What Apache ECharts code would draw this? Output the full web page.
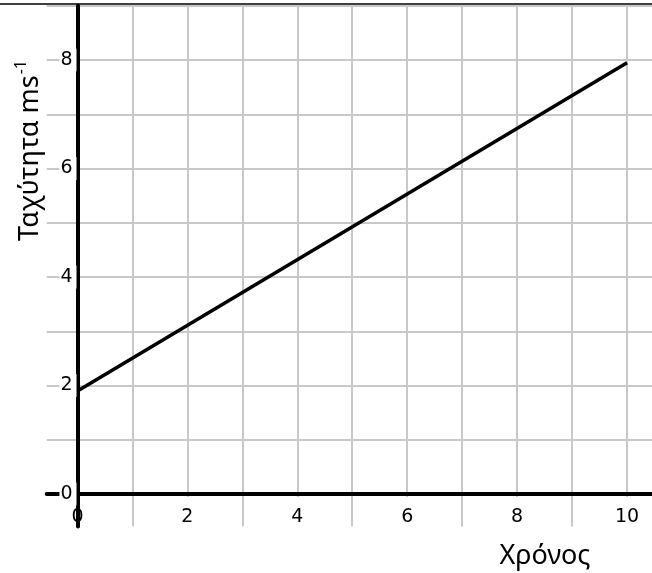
<!DOCTYPE html>
<html>
<head>
<meta charset="utf-8">
<script src="https://cdn.jsdelivr.net/npm/echarts@6/dist/echarts.min.js"></script>
<style>
  html, body { margin: 0; padding: 0; background: #fff; }
  #chart { width: 652px; height: 573px; }
</style>
</head>
<body>
<div id="chart"></div>
<script>
// ---- data ----
const timeValues = [0, 10];
const speedValues = [1.9, 7.95];
const xTickLabels = ['0', '2', '4', '6', '8', '10'];
const yTickLabels = ['0', '2', '4', '6', '8'];
const xTitle = 'Χρόνος';
const yTitleMain = 'Ταχύτητα ms';
const yTitleSup = '-1';

// ---- axis ranges ----
const X_MIN = -0.56, X_MAX = 10.48, X_STEP = 0.04;
const Y_MIN = -0.6, Y_MAX = 9.0, Y_STEP = 0.2;

const GRID_COLOR = '#c8c8c8';
const CLEAR = 'rgba(0,0,0,0)';

function cycleColors(step, minV) {
  const n = Math.round(1 / step);
  const arr = [];
  for (let k = 0; k < n; k++) {
    const v = minV + k * step;
    arr.push(Math.abs(v - Math.round(v)) < 1e-6 ? GRID_COLOR : CLEAR);
  }
  return arr;
}

function labelFmt(list) {
  return function (v) {
    const r = Math.round(v);
    if (Math.abs(v - r) > 1e-6) return '';
    return list.indexOf(String(r)) >= 0 ? '{w|' + r + '}' : '';
  };
}

const tickFont = { fontFamily: 'DejaVu Sans', fontSize: 19, color: '#000' };

const seriesData = timeValues.map((t, i) => [t, speedValues[i]]);

const chart = echarts.init(document.getElementById('chart'), null, { renderer: 'canvas' });

chart.setOption({
  animation: false,
  backgroundColor: '#fff',
  grid: {
    left: 46.7, right: -1.4, top: 5.75, bottom: 46.45,
    containLabel: false, outerBoundsMode: 'none'
  },
  xAxis: [
    {
      type: 'value', min: X_MIN, max: X_MAX, interval: X_STEP, z: 0,
      axisLine: { show: false }, axisTick: { show: false }, axisLabel: { show: false },
      splitLine: { show: true, lineStyle: { color: cycleColors(X_STEP, X_MIN), width: 2 } }
    },
    {
      type: 'value', min: X_MIN, max: X_MAX, interval: X_STEP, z: 3, position: 'bottom',
      axisLine: { show: true, onZero: true, onZeroAxisIndex: 1, lineStyle: { color: '#000', width: 4 } },
      axisTick: { show: false }, splitLine: { show: false },
      axisLabel: {
        show: true, margin: -20, formatter: labelFmt(xTickLabels),
        align: 'center', verticalAlign: 'top',
        showMinLabel: true, showMaxLabel: true,
        rich: { w: Object.assign({ backgroundColor: '#fff', padding: [11, 3, 6, 3], lineHeight: 17 }, tickFont) }
      }
    }
  ],
  yAxis: [
    {
      type: 'value', min: Y_MIN, max: Y_MAX, interval: Y_STEP, z: 0,
      axisLine: { show: false }, axisTick: { show: false }, axisLabel: { show: false },
      splitLine: { show: true, lineStyle: { color: cycleColors(Y_STEP, Y_MIN), width: 2 } }
    },
    {
      type: 'value', min: Y_MIN, max: Y_MAX, interval: Y_STEP, z: 4, position: 'left',
      axisLine: { show: true, onZero: true, onZeroAxisIndex: 1, lineStyle: { color: '#000', width: 4 } },
      axisTick: { show: false }, splitLine: { show: false },
      axisLabel: {
        show: true, margin: -29.8, formatter: labelFmt(yTickLabels),
        align: 'right', verticalAlign: 'middle',
        rich: { w: Object.assign({ backgroundColor: '#fff', padding: [2, 4, 2, 1], lineHeight: 20 }, tickFont) }
      }
    }
  ],
  series: [
    {
      type: 'line', xAxisIndex: 1, yAxisIndex: 1, z: 2,
      data: seriesData, symbol: 'none',
      lineStyle: { color: '#000', width: 3.5 }
    }
  ],
  graphic: [
    { type: 'line', z: 10, shape: { x1: 0, y1: 4, x2: 652, y2: 4 }, style: { stroke: '#000', lineWidth: 1.5 } },
    {
      type: 'text', z: 10, x: 545, y: 556,
      style: { text: xTitle, fontFamily: 'Noto Sans', fontSize: 27, fill: '#000', align: 'center', verticalAlign: 'middle' }
    },
    {
      type: 'text', z: 10, x: 28.5, y: 150.5, rotation: Math.PI / 2,
      style: {
        text: '{a|' + yTitleMain + '}{s|' + yTitleSup + '}',
        align: 'center', verticalAlign: 'middle',
        rich: {
          a: { fontFamily: 'Noto Sans', fontSize: 27, fill: '#000', lineHeight: 30, verticalAlign: 'bottom' },
          s: { fontFamily: 'Noto Sans', fontSize: 16, fill: '#000', lineHeight: 30, verticalAlign: 'top', padding: [0, 0, 0, 1] }
        }
      }
    }
  ]
});
</script>
</body>
</html>
